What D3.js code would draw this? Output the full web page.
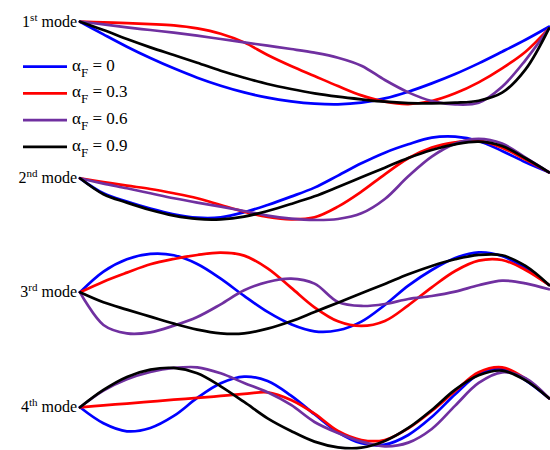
<!DOCTYPE html>
<html>
<head>
<meta charset="utf-8">
<script src="https://cdn.jsdelivr.net/npm/d3@7"></script>
<style>
  body { margin: 0; background: #fff; }
  svg text { font-family: "Liberation Serif", "DejaVu Serif", serif; fill: #000; }
</style>
</head>
<body>
<div id="chart"></div>
<script>
// normalised position along the beam
var xPos = [0, 0.05, 0.1, 0.15, 0.2, 0.25, 0.3, 0.35, 0.4, 0.45, 0.5,
            0.55, 0.6, 0.65, 0.7, 0.75, 0.8, 0.85, 0.9, 0.95, 1];

var modeNames = ["1", "2", "3", "4"];
var modeSups = ["st", "nd", "rd", "th"];

var alphaLabels = ["0", "0.3", "0.6", "0.9"];
var colors = ["#0000ff", "#ff0000", "#7030a0", "#000000"];

// mode shapes (arbitrary displacement units), one array per mode
var shapeAF0 = [
    [0, -38, -75, -109, -140, -168, -192, -212, -228, -239, -246, -248, -243, -230, -210, -185, -157, -125, -90, -54, -15],
    [0, -45, -70, -91, -108, -118, -117, -102, -80, -55, -28, 8, 45, 77, 102, 122, 125, 112, 82, 48, 18],
    [0, 62, 99, 115, 111, 85, 41, -11, -59, -96, -117, -114, -88, -38, 20, 67, 103, 120, 109, 72, 22],
    [0, -48, -72, -62, -26, 28, 72, 92, 79, 35, -21, -75, -108, -112, -83, -29, 39, 99, 116, 81, 27]
];
var shapeAF03 = [
    [0, -2, -4, -7, -11, -20, -36, -62, -100, -133, -163, -193, -221, -240, -247, -238, -215, -182, -140, -90, -20],
    [0, -11, -22, -32, -45, -60, -80, -100, -116, -123, -117, -85, -40, 12, 60, 92, 108, 113, 92, 56, 18],
    [0, 32, 59, 84, 100, 112, 119, 110, 72, 14, -45, -87, -101, -86, -39, 15, 64, 95, 97, 67, 22],
    [0, 6, 11, 17, 23, 28, 34, 40, 45, 22, -19, -71, -98, -98, -63, -11, 49, 105, 120, 86, 27]
];
var shapeAF06 = [
    [0, -8, -17, -25, -33, -42, -52, -62, -72, -82, -93, -108, -132, -175, -212, -238, -248, -243, -195, -115, -20],
    [0, -16, -30, -45, -60, -73, -85, -98, -112, -121, -125, -122, -105, -62, 6, 65, 104, 118, 104, 62, 18],
    [0, -98, -123, -120, -100, -74, -36, 6, 31, 41, 26, -29, -41, -35, -20, -11, 2, 21, 35, 27, 9],
    [0, 50, 84, 106, 118, 120, 102, 73, 45, 7, -44, -77, -103, -117, -106, -65, 5, 73, 105, 87, 27]
];
var shapeAF09 = [
    [0, -25, -52, -77, -100, -123, -147, -168, -187, -202, -215, -225, -233, -240, -244, -245, -243, -237, -213, -143, -20],
    [0, -48, -73, -95, -112, -122, -123, -115, -98, -77, -54, -26, 3, 32, 61, 85, 102, 110, 97, 60, 18],
    [0, -30, -52, -73, -94, -112, -123, -123, -109, -87, -59, -31, -3, 25, 54, 79, 99, 112, 111, 79, 22],
    [0, 52, 91, 113, 118, 102, 63, 16, -33, -71, -103, -120, -121, -101, -62, -8, 53, 96, 110, 81, 27]
];

var shapes = [shapeAF0, shapeAF03, shapeAF06, shapeAF09];

var width = 550, height = 450;
var baselines = [21.7, 178.3, 292.3, 407.3];

var svg = d3.select("#chart")
    .append("svg")
    .attr("width", width)
    .attr("height", height);

var x = d3.scaleLinear().domain([0, 1]).range([80, 549]);

// Draw each mode panel
modeNames.forEach(function(m, k) {
    var y = d3.scaleLinear()
        .domain([-300, 300])
        .range([baselines[k] + 100, baselines[k] - 100]);

    var line = d3.line()
        .x(function(d, i) { return x(xPos[i]); })
        .y(function(d) { return y(d); })
        .curve(d3.curveCatmullRom.alpha(0.5));

    var g = svg.append("g").attr("class", "mode");

    shapes.forEach(function(s, j) {
        g.append("path")
            .attr("d", line(s[k]))
            .attr("fill", "none")
            .attr("stroke", colors[j])
            .attr("stroke-width", 2.7)
            .attr("stroke-linejoin", "round")
            .attr("stroke-linecap", "round");
    });

    var lbl = g.append("text")
        .attr("x", x(0) - 3)
        .attr("y", y(0) + 5)
        .attr("text-anchor", "end")
        .style("font-size", "16px");
    lbl.append("tspan").text(m);
    lbl.append("tspan")
        .attr("dy", -6)
        .style("font-size", "11px")
        .text(modeSups[k]);
    lbl.append("tspan")
        .attr("dy", 6)
        .text("\u00a0mode");
});

// Add legend
var legend = svg.selectAll("g.legend")
    .data(alphaLabels)
    .enter().append("g")
    .attr("class", "legend")
    .attr("transform", function(d, i) { return "translate(23," + (66.7 + i * 26.7) + ")"; });

legend.append("line")
    .attr("x1", 0)
    .attr("x2", 44)
    .attr("stroke", function(d, i) { return colors[i]; })
    .attr("stroke-width", 2.7);

var lt = legend.append("text")
    .attr("x", 49)
    .attr("y", 4)
    .style("font-size", "17px");
lt.append("tspan").text("\u03b1");
lt.append("tspan")
    .attr("dy", 6)
    .style("font-size", "13px")
    .text("F");
lt.append("tspan")
    .attr("dy", -6)
    .text(function(d) { return " = " + d; });
</script>
</body>
</html>
